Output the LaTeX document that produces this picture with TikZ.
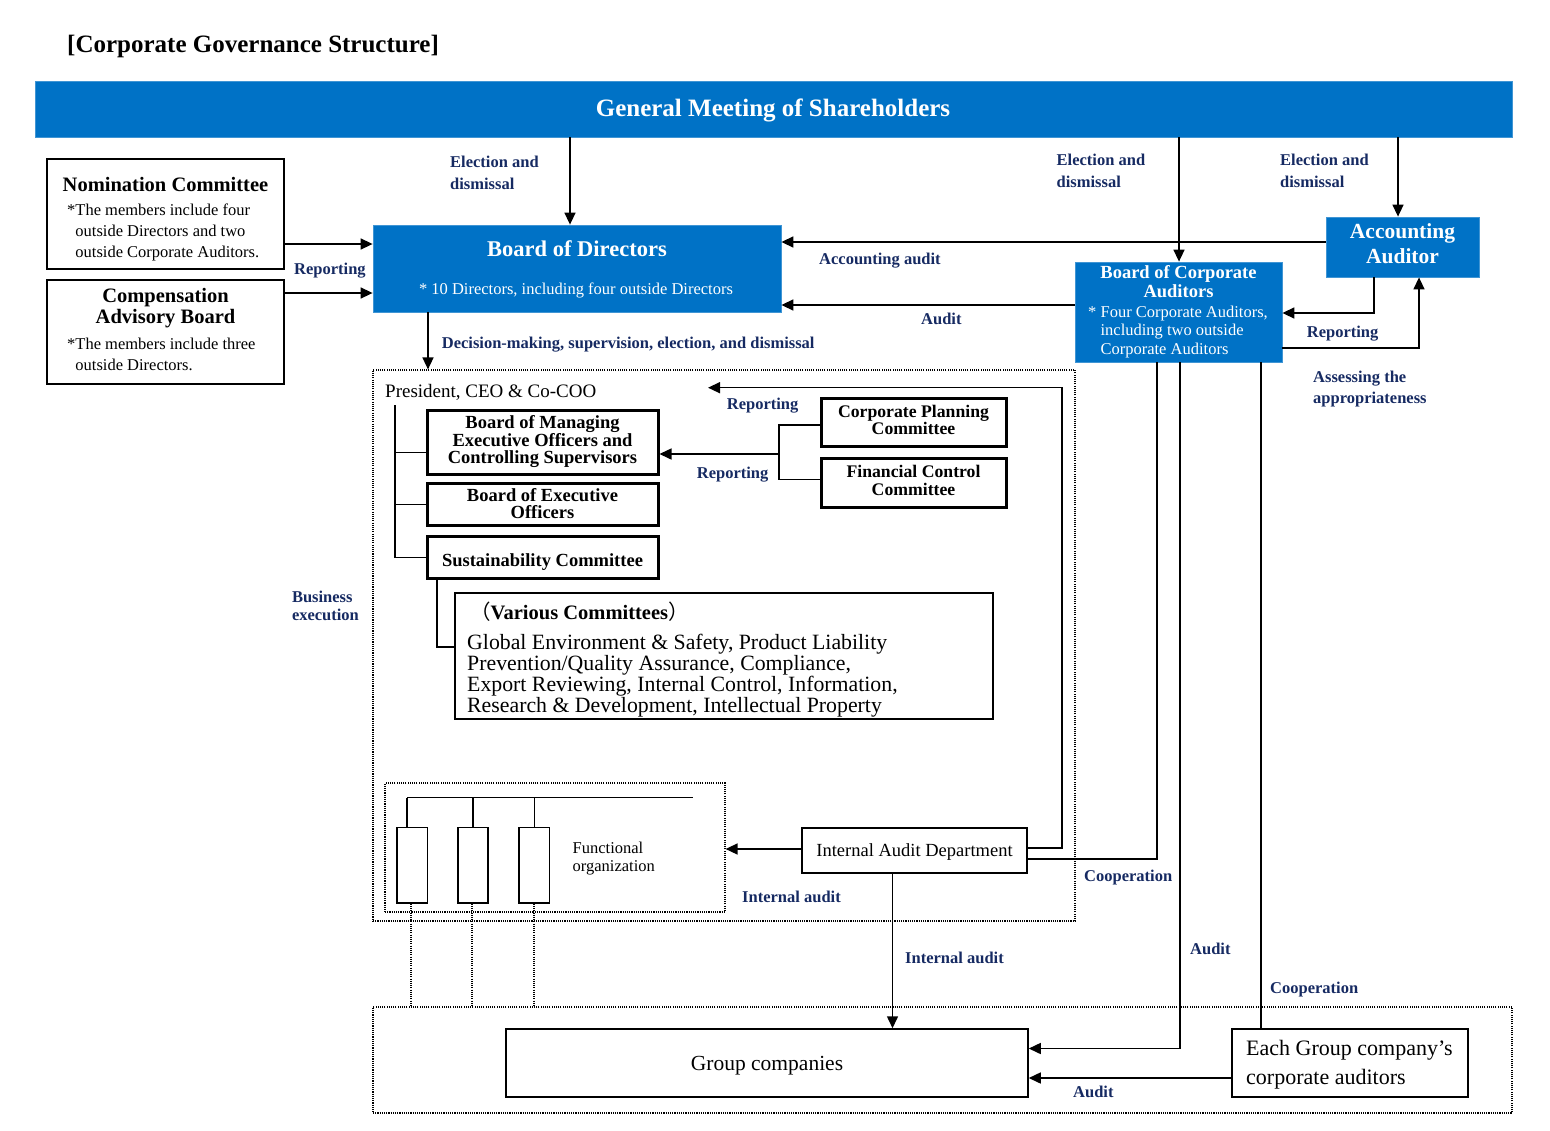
\documentclass[tikz,border=0pt]{standalone}
\usepackage{fontspec}
\setmainfont{Liberation Serif}
\newfontfamily\cjkfont{Noto Sans CJK JP}
\usetikzlibrary{arrows.meta,fit}
\definecolor{mainblue}{RGB}{0,114,198}
\definecolor{navy}{RGB}{22,42,98}
\newcommand{\Lc}[2]{\vtop{\baselineskip=#1pt\lineskiplimit=-100pt\lineskip=0pt\halign{\hfil##\hfil\cr#2\crcr}}}
\newcommand{\Ll}[2]{\vtop{\baselineskip=#1pt\lineskiplimit=-100pt\lineskip=0pt\halign{##\hfil\cr#2\crcr}}}
\newcommand{\fsz}[1]{\fontsize{#1}{#1}\selectfont}
\begin{document}
\begin{tikzpicture}[x=1pt,y=-1pt,
  lab/.style={anchor=base west, inner sep=0pt, text=navy, font=\bfseries\fsz{16.5}},
  txt/.style={inner sep=0pt},
  arr/.style={line width=1.5pt,-{Triangle[length=12pt,width=11pt]}},
  ln/.style={line width=1.5pt},
  box/.style={draw, line width=#1, inner sep=0pt}, box/.default=1.5pt,
  bbox/.style={fill=mainblue, draw=mainblue!75!white, line width=0.8pt, inner sep=0pt},
  dots/.style={draw, line width=1.2pt, dash pattern=on 1.1pt off 1.1pt, inner sep=0pt},
  dotl/.style={line width=1.2pt, dash pattern=on 1.1pt off 1.1pt}]
\useasboundingbox (0,0) rectangle (1550,1130);

% title
\node[txt, anchor=base west, font=\bfseries\fsz{25}] (title) at (67,52) {[Corporate Governance Structure]};

% General meeting
\node[bbox, fit={(35,81)(1512,137)}] (gm) {};
\node[txt, anchor=base, text=white, font=\bfseries\fsz{25}] (gmt) at (773,116.5) {General Meeting of Shareholders};

% Nomination committee
\node[box=2pt, fit={(47,159)(284,269)}] (nom) {};
\node[txt, anchor=base, font=\bfseries\fsz{20.5}] (nomt) at (165.5,191) {Nomination Committee};
\node[txt, anchor=base west, font=\fsz{16.5}] (noms) at (67,215.5) {\Ll{21}{*The members include four\cr\hphantom{*}outside Directors and two\cr\hphantom{*}outside Corporate Auditors.}};

% Compensation advisory board
\node[box=2pt, fit={(47,280)(284,384)}] (comp) {};
\node[txt, anchor=base, font=\bfseries\fsz{20.5}] (compt) at (165.5,302) {\Lc{21.5}{Compensation\cr Advisory Board}};
\node[txt, anchor=base west, font=\fsz{16.5}] (comps) at (67,349.5) {\Ll{21}{*The members include three\cr\hphantom{*}outside Directors.}};

% Board of Directors
\node[bbox, fit={(373,225)(781,312)}] (bod) {};
\node[txt, anchor=base, text=white, font=\bfseries\fsz{22.5}] (bodt) at (577,256.5) {Board of Directors};
\node[txt, anchor=base, text=white, font=\fsz{16.5}] (bods) at (576,294.5) {* 10 Directors, including four outside Directors};

% Accounting Auditor
\node[bbox, fit={(1326,217)(1479,277)}] (aa) {};
\node[txt, anchor=base, text=white, font=\bfseries\fsz{21.5}] (aat) at (1402.5,238.8) {\Lc{25}{Accounting\cr Auditor}};

% Board of Corporate Auditors
\node[bbox, fit={(1075,262)(1282,362)}] (bca) {};
\node[txt, anchor=base, text=white, font=\bfseries\fsz{18.5}] (bcat) at (1178.5,278.8) {\Lc{19}{Board of Corporate\cr Auditors}};
\node[txt, anchor=base west, text=white, font=\fsz{16.5}] (bcas) at (1088,317.2) {\Ll{18.7}{* Four Corporate Auditors,\cr\hphantom{* }including two outside\cr\hphantom{* }Corporate Auditors}};

% top connectors
\draw[arr] (nom.east |- 0,244) -- (bod.west |- 0,244);
\draw[arr] (comp.east |- 0,293) -- (bod.west |- 0,293);
\node[lab] (lrep1) at (294,274.5) {Reporting};

\draw[arr] (gm.south -| 570,0) -- (bod.north -| 570,0);
\node[lab] (lel1) at (450,167.2) {\Ll{22.3}{Election and\cr dismissal}};

\draw[arr] (gm.south -| 1179,0) -- (bca.north -| 1179,0);
\node[lab] (lel2) at (1056.5,165.5) {\Ll{22.3}{Election and\cr dismissal}};

\draw[arr] (gm.south -| 1398,0) -- (aa.north -| 1398,0);
\node[lab] (lel3) at (1280,165.5) {\Ll{22.3}{Election and\cr dismissal}};

\draw[arr] (aa.west |- 0,242) -- (bod.east |- 0,242);
\node[lab] (lacc) at (819,264.5) {Accounting audit};

\draw[arr] (bca.west |- 0,305) -- (bod.east |- 0,305);
\node[lab] (laud1) at (921,324.5) {Audit};

\draw[arr] (aa.south -| 1374,0) |- (bca.east |- 0,313);
\node[lab] (lrep2) at (1306.7,337.2) {Reporting};

\draw[arr] (bca.east |- 0,348) -| (aa.south -| 1419,0);
\node[lab] (lass) at (1313,382.2) {\Ll{21.6}{Assessing the\cr appropriateness}};

% business execution area
\node[dots, fit={(373,370)(1075,921)}] (biz) {};
\node[lab] (lbiz) at (291.8,602.2) {\Ll{18.5}{Business\cr execution}};

\draw[arr] (bod.south -| 428,0) -- (biz.north -| 428,0);
\node[lab] (ldec) at (441.7,348.8) {Decision-making, supervision, election, and dismissal};

\node[txt, anchor=base west, font=\fsz{19}] (pres) at (385,397) {President, CEO \& Co-COO};

\node[box=3pt, fit={(427,410)(658,474)}] (bmeo) {};
\node[txt, anchor=base, font=\bfseries\fsz{18.5}] (bmeot) at (542.5,428.8) {\Lc{17.5}{Board of Managing\cr Executive Officers and\cr Controlling Supervisors}};
\node[box=3pt, fit={(427,483.5)(658,525.5)}] (beo) {};
\node[txt, anchor=base, font=\bfseries\fsz{18.5}] (beot) at (542.5,501.5) {\Lc{16.8}{Board of Executive\cr Officers}};
\node[box=3pt, fit={(427,536.5)(658,578)}] (sc) {};
\node[txt, anchor=base, font=\bfseries\fsz{18.5}] (sct) at (542.5,566.2) {Sustainability Committee};

\coordinate (ptop) at (395,405);
\draw[ln] (ptop) |- (sc.west |- 0,557.7);
\draw[ln] (ptop |- 0,452.3) -- (bmeo.west |- 0,452.3);
\draw[ln] (ptop |- 0,504.3) -- (beo.west |- 0,504.3);

\node[box=3pt, fit={(821,398)(1006,446)}] (cpc) {};
\node[txt, anchor=base, font=\bfseries\fsz{17.7}] (cpct) at (913.5,417.2) {\Lc{17.6}{Corporate Planning\cr Committee}};
\node[box=3pt, fit={(821,458)(1006,507)}] (fcc) {};
\node[txt, anchor=base, font=\bfseries\fsz{17.7}] (fcct) at (913.5,477.2) {\Lc{18.3}{Financial Control\cr Committee}};

\coordinate (brk) at (779,454);
\draw[ln] (cpc.west |- 0,425) -| (brk);
\draw[ln] (fcc.west |- 0,479.5) -| (brk);
\draw[arr] (brk) -- (bmeo.east |- brk);
\node[lab] (lrep3) at (696.7,478.2) {Reporting};

% various committees
\node[box=1.5pt, fit={(455,593)(993,719)}] (vc) {};
\draw[ln] (sc.south -| 437,0) |- (vc.west |- 0,647);
\node[txt, anchor=base west, font=\bfseries\fsz{20.5}] (vct) at (470,619) {{\cjkfont\mdseries （}Various Committees{\cjkfont\mdseries ）}};
\node[txt, anchor=base west, font=\fsz{21.8}] (vcs) at (467,649) {\Ll{21}{Global Environment \& Safety, Product Liability\cr Prevention/Quality Assurance, Compliance,\cr Export Reviewing, Internal Control, Information,\cr Research \& Development, Intellectual Property}};

% functional organization
\node[dots, fit={(385,783)(725,912)}] (fo) {};
\coordinate (fol) at (407,797.5);
\coordinate (for) at (693,797.5);
\draw[ln] (fol) -- (for);
\node[box=1.5pt, fit={(397,827.5)(427.5,903)}] (r1) {};
\node[box=1.5pt, fit={(458,827.5)(488,903)}] (r2) {};
\node[box=1.5pt, fit={(519,827.5)(549.5,903)}] (r3) {};
\draw[ln] (fol) -- (r1.north -| fol);
\draw[ln] (r2.north |- fol) -- (r2.north);
\draw[ln] (r3.north |- fol) -- (r3.north);
\node[txt, anchor=base west, font=\fsz{16.5}] (fot) at (572.5,853) {\Ll{18.5}{Functional\cr organization}};

% internal audit department
\node[box=1.5pt, fit={(802,828)(1027,873)}] (iad) {};
\node[txt, anchor=base, font=\fsz{18.5}] (iadt) at (914.5,856.5) {Internal Audit Department};
\draw[arr] (iad.west |- 0,849) -- (fo.east |- 0,849);
\node[lab] (lia1) at (742,902.2) {Internal audit};

\draw[arr] (iad.east |- 0,848) -| (1062,387.7) -- (708,387.7);
\node[lab] (lrep4) at (726.7,409.8) {Reporting};

\draw[ln] (iad.east |- 0,859) -| (bca.south -| 1157,0);
\node[lab] (lcoop1) at (1084,881.5) {Cooperation};

% group area
\node[dots, fit={(373,1007)(1512,1113)}] (grp) {};
\node[box=1.5pt, fit={(506,1029)(1028,1097)}] (gc) {};
\node[txt, anchor=base, font=\fsz{21.5}] (gct) at (767,1070.5) {Group companies};
\node[box=1.5pt, fit={(1232,1029)(1468,1097)}] (eca) {};
\node[txt, anchor=base west, font=\fsz{22}] (ecat) at (1246,1055.5) {\Ll{29}{Each Group company’s\cr corporate auditors}};

\draw[arr] (iad.south -| 892.5,0) -- (gc.north -| 892.5,0);
\node[lab] (lia2) at (905,963.5) {Internal audit};

\draw[dotl] (r1.south -| 411,0) -- (grp.north -| 411,0);
\draw[dotl] (r2.south -| 472,0) -- (grp.north -| 472,0);
\draw[dotl] (r3.south -| 534,0) -- (grp.north -| 534,0);

\draw[arr] (bca.south -| 1180,0) |- (gc.east |- 0,1048.5);
\node[lab] (laud2) at (1190,954.5) {Audit};

\draw[ln] (bca.south -| 1261,0) -- (eca.north -| 1261,0);
\node[lab] (lcoop2) at (1270,993.5) {Cooperation};

\draw[arr] (eca.west |- 0,1078) -- (gc.east |- 0,1078);
\node[lab] (laud3) at (1073,1097.5) {Audit};
\end{tikzpicture}
\end{document}
